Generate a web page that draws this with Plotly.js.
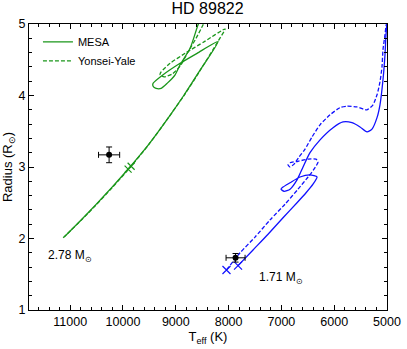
<!DOCTYPE html>
<html>
<head>
<meta charset="utf-8">
<script src="https://cdn.plot.ly/plotly-3.0.1.min.js"></script>
<style>
  html, body { margin: 0; padding: 0; background: #fff; }
  #chart { width: 407px; height: 349px; }
</style>
</head>
<body>
<div id="chart"></div>
<script>
// HD 89822 — evolutionary tracks (MESA vs Yonsei-Yale)
const GREEN = '#1a961a';
const BLUE = '#1010ff';

// 2.78 Msun tracks
const mesaHiT = [11114, 10812, 10509, 10206, 9884, 9524, 9146, 8843, 8540, 8199, 8597, 8919, 9240, 9430, 9430, 9373, 9278, 9165, 9013, 8919, 8729, 8578, 8521];
const mesaHiR = [2.02, 2.245, 2.477, 2.719, 2.986, 3.305, 3.683, 4.007, 4.354, 4.755, 4.59, 4.45, 4.29, 4.17, 4.13, 4.10, 4.10, 4.17, 4.29, 4.43, 4.66, 4.99, 5.08];
const yyHiT = [11133, 10812, 10509, 10206, 9870, 9515, 9140, 8835, 8530, 8190, 8067, 8445, 8824, 9108, 9278, 9297, 9221, 9070, 8919, 8767, 8616, 8483, 8426];
const yyHiR = [2.01, 2.24, 2.47, 2.71, 2.99, 3.31, 3.69, 4.01, 4.36, 4.77, 4.93, 4.76, 4.59, 4.45, 4.33, 4.29, 4.26, 4.30, 4.41, 4.61, 4.80, 4.99, 5.08];

// 1.71 Msun tracks
const mesaLoT = [7821, 7537, 7253, 6969, 6704, 6533, 6401, 6325, 6458, 6647, 6836, 6969, 7007, 6950, 6836, 6704, 6590, 6458, 6268, 6022, 5833, 5663, 5511, 5379, 5284, 5189, 5133, 5076, 5038, 5019, 5000];
const mesaLoR = [1.62, 1.84, 2.06, 2.29, 2.50, 2.64, 2.76, 2.86, 2.89, 2.86, 2.78, 2.72, 2.69, 2.66, 2.69, 2.82, 3.00, 3.20, 3.38, 3.55, 3.63, 3.62, 3.56, 3.49, 3.53, 3.69, 3.87, 4.22, 4.57, 4.85, 5.03];
const yyLoT = [8040, 7783, 7499, 7215, 6931, 6685, 6495, 6382, 6306, 6344, 6495, 6685, 6836, 6874, 6836, 6760, 6666, 6552, 6420, 6268, 6079, 5890, 5757, 5568, 5379, 5265, 5189, 5133, 5095, 5076, 5038, 5019, 5000];
const yyLoR = [1.56, 1.80, 2.02, 2.26, 2.48, 2.69, 2.86, 2.97, 3.07, 3.11, 3.11, 3.08, 3.06, 3.03, 3.00, 3.04, 3.14, 3.25, 3.42, 3.59, 3.73, 3.83, 3.85, 3.84, 3.80, 3.87, 4.01, 4.19, 4.40, 4.64, 4.85, 4.97, 5.03];

// age markers
const crossHiT = [9903, 9846];
const crossHiR = [2.97, 3.01];
const crossLoT = [8040, 7821];
const crossLoR = [1.56, 1.62];

// measured components
const starT = [10263, 7868];
const starR = [3.17, 1.73];
const starTErr = [200, 180];
const starRErr = [0.11, 0.06];

const labelT = [11000, 7007];
const labelR = [1.76, 1.45];
const labelText = ['2.78 M<sub>⊙</sub>', '1.71 M<sub>⊙</sub>'];

const track = (x, y, color, dash, name, legend) => ({
  x, y, name, type: 'scatter', mode: 'lines',
  line: { color, width: 1.3, dash, shape: 'spline', smoothing: 0.6 },
  showlegend: legend, hoverinfo: 'skip',
});
const DASH = '4px,2px';

const cross = (x, y, color, size) => ({
  x, y, type: 'scatter', mode: 'markers', showlegend: false,
  marker: { symbol: 'x-thin-open', size, color, line: { color, width: 1.2 } },
});

const traces = [
  track(mesaHiT, mesaHiR, GREEN, 'solid', 'MESA', true),
  track(yyHiT, yyHiR, GREEN, DASH, 'Yonsei-Yale', true),
  track(mesaLoT, mesaLoR, BLUE, 'solid', 'MESA 1.71', false),
  track(yyLoT, yyLoR, BLUE, DASH, 'YY 1.71', false),
  cross(crossHiT, crossHiR, GREEN, 7),
  cross(crossLoT, crossLoR, BLUE, 8),
  {
    x: starT, y: starR, type: 'scatter', mode: 'markers', showlegend: false,
    marker: { color: '#000', size: 6 },
    error_x: { type: 'data', array: starTErr, color: '#000', thickness: 1, width: 3 },
    error_y: { type: 'data', array: starRErr, color: '#000', thickness: 1, width: 3 },
  },
];

const axisBase = {
  ticks: 'inside', ticklen: 5, tickwidth: 1, tickcolor: '#000',
  mirror: 'allticks', showline: true, linecolor: '#000', linewidth: 1,
  showgrid: false, zeroline: false, automargin: false, tickformat: 'd',
  tickfont: { size: 12.5, color: '#000' },
};

const layout = {
  width: 407, height: 349,
  margin: { l: 29, r: 20, t: 24, b: 39 },
  paper_bgcolor: '#fff', plot_bgcolor: '#fff',
  font: { family: 'Liberation Sans, Arial, sans-serif', color: '#000', size: 12 },
  title: { text: 'HD 89822', x: 0.51, xanchor: 'center', y: 0.975, yanchor: 'middle', font: { size: 16 } },
  showlegend: true,
  legend: {
    x: 0.025, y: 0.988, xanchor: 'left', yanchor: 'top',
    bgcolor: 'rgba(0,0,0,0)', font: { size: 11 }, itemwidth: 30, tracegroupgap: 0,
  },
  xaxis: Object.assign({}, axisBase, {
    range: [11780, 5000], dtick: 1000, tick0: 0,
    minor: { dtick: 200, ticks: 'inside', ticklen: 3, tickcolor: '#000' },
    title: { text: 'T<sub>eff</sub> (K)', font: { size: 13 }, standoff: 2 },
  }),
  yaxis: Object.assign({}, axisBase, {
    range: [1, 5], dtick: 1, tick0: 0,
    minor: { dtick: 0.2, ticks: 'inside', ticklen: 3, tickcolor: '#000' },
    title: { text: 'Radius (R<sub>⊙</sub>)', font: { size: 13 }, standoff: 2 },
  }),
  annotations: labelText.map((t, i) => ({
    x: labelT[i], y: labelR[i], text: t, showarrow: false,
    font: { size: 12, color: '#000' }, xanchor: 'center', yanchor: 'middle',
  })),
};

Plotly.newPlot('chart', traces, layout, { displayModeBar: false, staticPlot: true });
</script>
</body>
</html>
